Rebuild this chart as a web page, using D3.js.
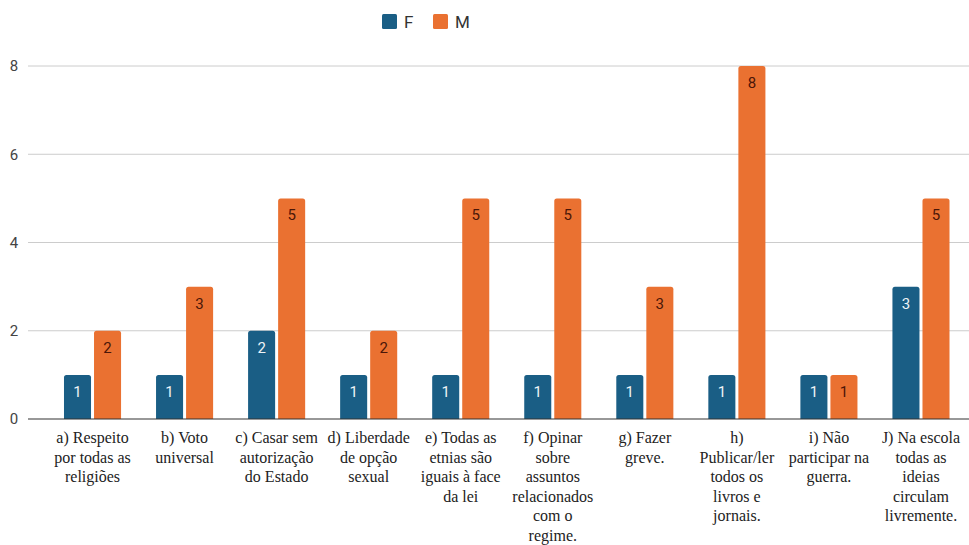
<!DOCTYPE html>
<html>
<head>
<meta charset="utf-8">
<script src="https://cdn.jsdelivr.net/npm/d3@7"></script>
<style>
  html, body { margin: 0; padding: 0; background: #fff; }
  svg { display: block; }
</style>
</head>
<body>
<svg id="chart" width="969" height="545"></svg>
<script>
const categories = [
  "a) Respeito por todas as religiões",
  "b) Voto universal",
  "c) Casar sem autorização do Estado",
  "d) Liberdade de opção sexual",
  "e) Todas as etnias são iguais à face da lei",
  "f) Opinar sobre assuntos relacionados com o regime.",
  "g) Fazer greve.",
  "h) Publicar/ler todos os livros e jornais.",
  "i) Não participar na guerra.",
  "J) Na escola todas as ideias circulam livremente."
];
const seriesNames = ["F", "M"];
const valuesF = [1, 1, 2, 1, 1, 1, 1, 1, 1, 3];
const valuesM = [2, 3, 5, 2, 5, 5, 3, 8, 1, 5];
const yTicks = [0, 2, 4, 6, 8];

const colors = { F: "#1a5e85", M: "#ea7131" };
const labelColors = { F: "#eef3f6", M: "#4a1608" };

const svg = d3.select("#chart");
const W = 969, H = 545;
const plotLeft = 46.5, plotRight = 967, plotTop = 66, plotBottom = 419;

const y = d3.scaleLinear().domain([0, 8]).range([plotBottom, plotTop]);
const x0 = d3.scaleBand().domain(categories).range([plotLeft, plotRight])
  .paddingInner(0.38).paddingOuter(0.19);
const x1 = d3.scaleBand().domain(seriesNames).range([0, x0.bandwidth()]).paddingInner(0.1);

// gridlines
svg.append("g").selectAll("line").data(yTicks.filter(t => t > 0)).join("line")
  .attr("x1", 28).attr("x2", W)
  .attr("y1", d => y(d)).attr("y2", d => y(d))
  .attr("stroke", "#cccccc").attr("stroke-width", 1);

// y tick labels
const yAxis = d3.axisLeft(y).tickValues(yTicks).tickSize(0).tickPadding(0);
const yg = svg.append("g").attr("transform", "translate(19,0)").call(yAxis);
yg.select(".domain").remove();
yg.selectAll("text").attr("font-family", "Roboto, sans-serif").attr("font-size", 15)
  .attr("fill", "#444").attr("text-anchor", "middle").attr("x", -5);

// bars
const data = categories.map((c, i) => ({ c, F: valuesF[i], M: valuesM[i] }));
function roundTop(xp, yp, w, h, r) {
  r = Math.min(r, h, w / 2);
  return `M${xp},${yp + h}V${yp + r}Q${xp},${yp} ${xp + r},${yp}H${xp + w - r}Q${xp + w},${yp} ${xp + w},${yp + r}V${yp + h}Z`;
}
const groups = svg.append("g").selectAll("g").data(data).join("g")
  .attr("transform", d => `translate(${x0(d.c)},0)`);
seriesNames.forEach(s => {
  groups.append("path")
    .attr("d", d => roundTop(x1(s), y(d[s]), x1.bandwidth(), y(0) - y(d[s]), 2.5))
    .attr("fill", colors[s]);
  groups.append("text")
    .attr("x", x1(s) + x1.bandwidth() / 2)
    .attr("y", d => y(d[s]) + 22)
    .attr("text-anchor", "middle")
    .attr("font-family", "Roboto, sans-serif").attr("font-size", 15)
    .attr("fill", labelColors[s])
    .text(d => d[s]);
});

// baseline
svg.append("line").attr("x1", 28).attr("x2", W).attr("y1", y(0)).attr("y2", y(0))
  .attr("stroke", "#333").attr("stroke-width", 1.2);

// x labels
const xAxis = d3.axisBottom(x0).tickSize(0).tickPadding(0);
const xg = svg.append("g").attr("transform", `translate(0,${plotBottom})`).call(xAxis);
xg.select(".domain").remove();
xg.selectAll("text").each(function(d) {
  const t = d3.select(this);
  t.text(null).attr("y", 0).attr("dy", null)
    .attr("font-family", "'Liberation Serif', 'Times New Roman', serif")
    .attr("font-size", 16).attr("fill", "#222");
  const words = d.split(" ");
  const maxW = 87;
  let lines = [], line = [];
  const probe = t.append("tspan");
  words.forEach(w => {
    line.push(w);
    probe.text(line.join(" "));
    if (probe.node().getComputedTextLength() > maxW && line.length > 1) {
      line.pop();
      lines.push(line.join(" "));
      line = [w];
    }
  });
  lines.push(line.join(" "));
  probe.remove();
  lines.forEach((l, i) => {
    t.append("tspan").attr("x", 0).attr("y", 24 + i * 19.5).text(l);
  });
});

// legend
const legend = svg.append("g");
const legendItems = [
  { name: "F", x: 382 },
  { name: "M", x: 433 }
];
legendItems.forEach(it => {
  legend.append("rect").attr("x", it.x).attr("y", 14).attr("width", 15).attr("height", 15)
    .attr("rx", 1.5).attr("fill", colors[it.name]);
  legend.append("text").attr("x", it.x + 22).attr("y", 27.5)
    .attr("font-family", "Roboto, sans-serif").attr("font-size", 17)
    .attr("fill", "#333").text(it.name);
});
</script>
</body>
</html>
